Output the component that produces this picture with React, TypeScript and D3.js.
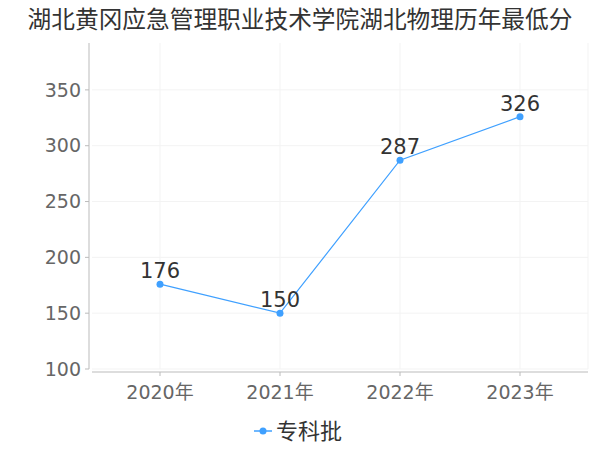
import React from "react";
import * as d3 from "d3";

const categories = ["2020年", "2021年", "2022年", "2023年"];
const scores = [176, 150, 287, 326];
const yTicks = [100, 150, 200, 250, 300, 350];
const seriesName = "专科批";
const title = "湖北黄冈应急管理职业技术学院湖北物理历年最低分";

const W = 600;
const H = 450;
const font = "'DejaVu Sans', 'Noto Sans CJK SC', sans-serif";
const lineColor = "#3fa0ff";

export default function App() {
  const x = d3.scalePoint<string>().domain(categories).range([160, 520]);
  const y = d3.scaleLinear().domain([100, 392]).range([369, 43]);

  const line = d3
    .line<number>()
    .x((_, i) => x(categories[i]) as number)
    .y((d) => y(d));

  return (
    <svg
      width={W}
      height={H}
      style={{ position: "absolute", left: 0, top: 0, background: "#fff" }}
      fontFamily={font}
    >
      <text x={300} y={28} textAnchor="middle" fontSize={23.7} fill="#333">
        {title}
      </text>

      {/* grid */}
      {yTicks.map((t) => (
        <line key={"g" + t} x1={92} x2={588} y1={y(t)} y2={y(t)} stroke="#f3f3f3" />
      ))}
      {categories.map((c) => (
        <line key={"v" + c} x1={x(c)} x2={x(c)} y1={43} y2={369} stroke="#f3f3f3" />
      ))}
      <line x1={588} x2={588} y1={43} y2={369} stroke="#f3f3f3" />

      {/* y axis */}
      <line x1={89} x2={89} y1={43} y2={369} stroke="#bbb" />
      {yTicks.map((t) => (
        <g key={"t" + t}>
          <line x1={85} x2={89} y1={y(t)} y2={y(t)} stroke="#bbb" />
          <text x={81} y={y(t)} dy="0.35em" textAnchor="end" fontSize={19} fill="#666">
            {t}
          </text>
        </g>
      ))}

      {/* x axis */}
      <line x1={92} x2={588} y1={372} y2={372} stroke="#bbb" />
      {categories.map((c) => (
        <g key={"x" + c}>
          <line x1={x(c)} x2={x(c)} y1={372} y2={376} stroke="#bbb" />
          <text x={x(c)} y={399} textAnchor="middle" fontSize={19} fill="#666">
            {c}
          </text>
        </g>
      ))}

      {/* series */}
      <path d={line(scores) ?? ""} fill="none" stroke={lineColor} strokeWidth={1.2} />
      {scores.map((v, i) => (
        <g key={"p" + i}>
          <circle cx={x(categories[i])} cy={y(v)} r={3.5} fill={lineColor} />
          <text
            x={x(categories[i])}
            y={y(v) - 6}
            textAnchor="middle"
            fontSize={21}
            fill="#333"
          >
            {v}
          </text>
        </g>
      ))}

      {/* legend */}
      <line x1={254} x2={272} y1={431} y2={431} stroke={lineColor} strokeWidth={1.5} />
      <circle cx={263} cy={431} r={3.5} fill={lineColor} />
      <text x={276} y={439} fontSize={22} fill="#333">
        {seriesName}
      </text>
    </svg>
  );
}
